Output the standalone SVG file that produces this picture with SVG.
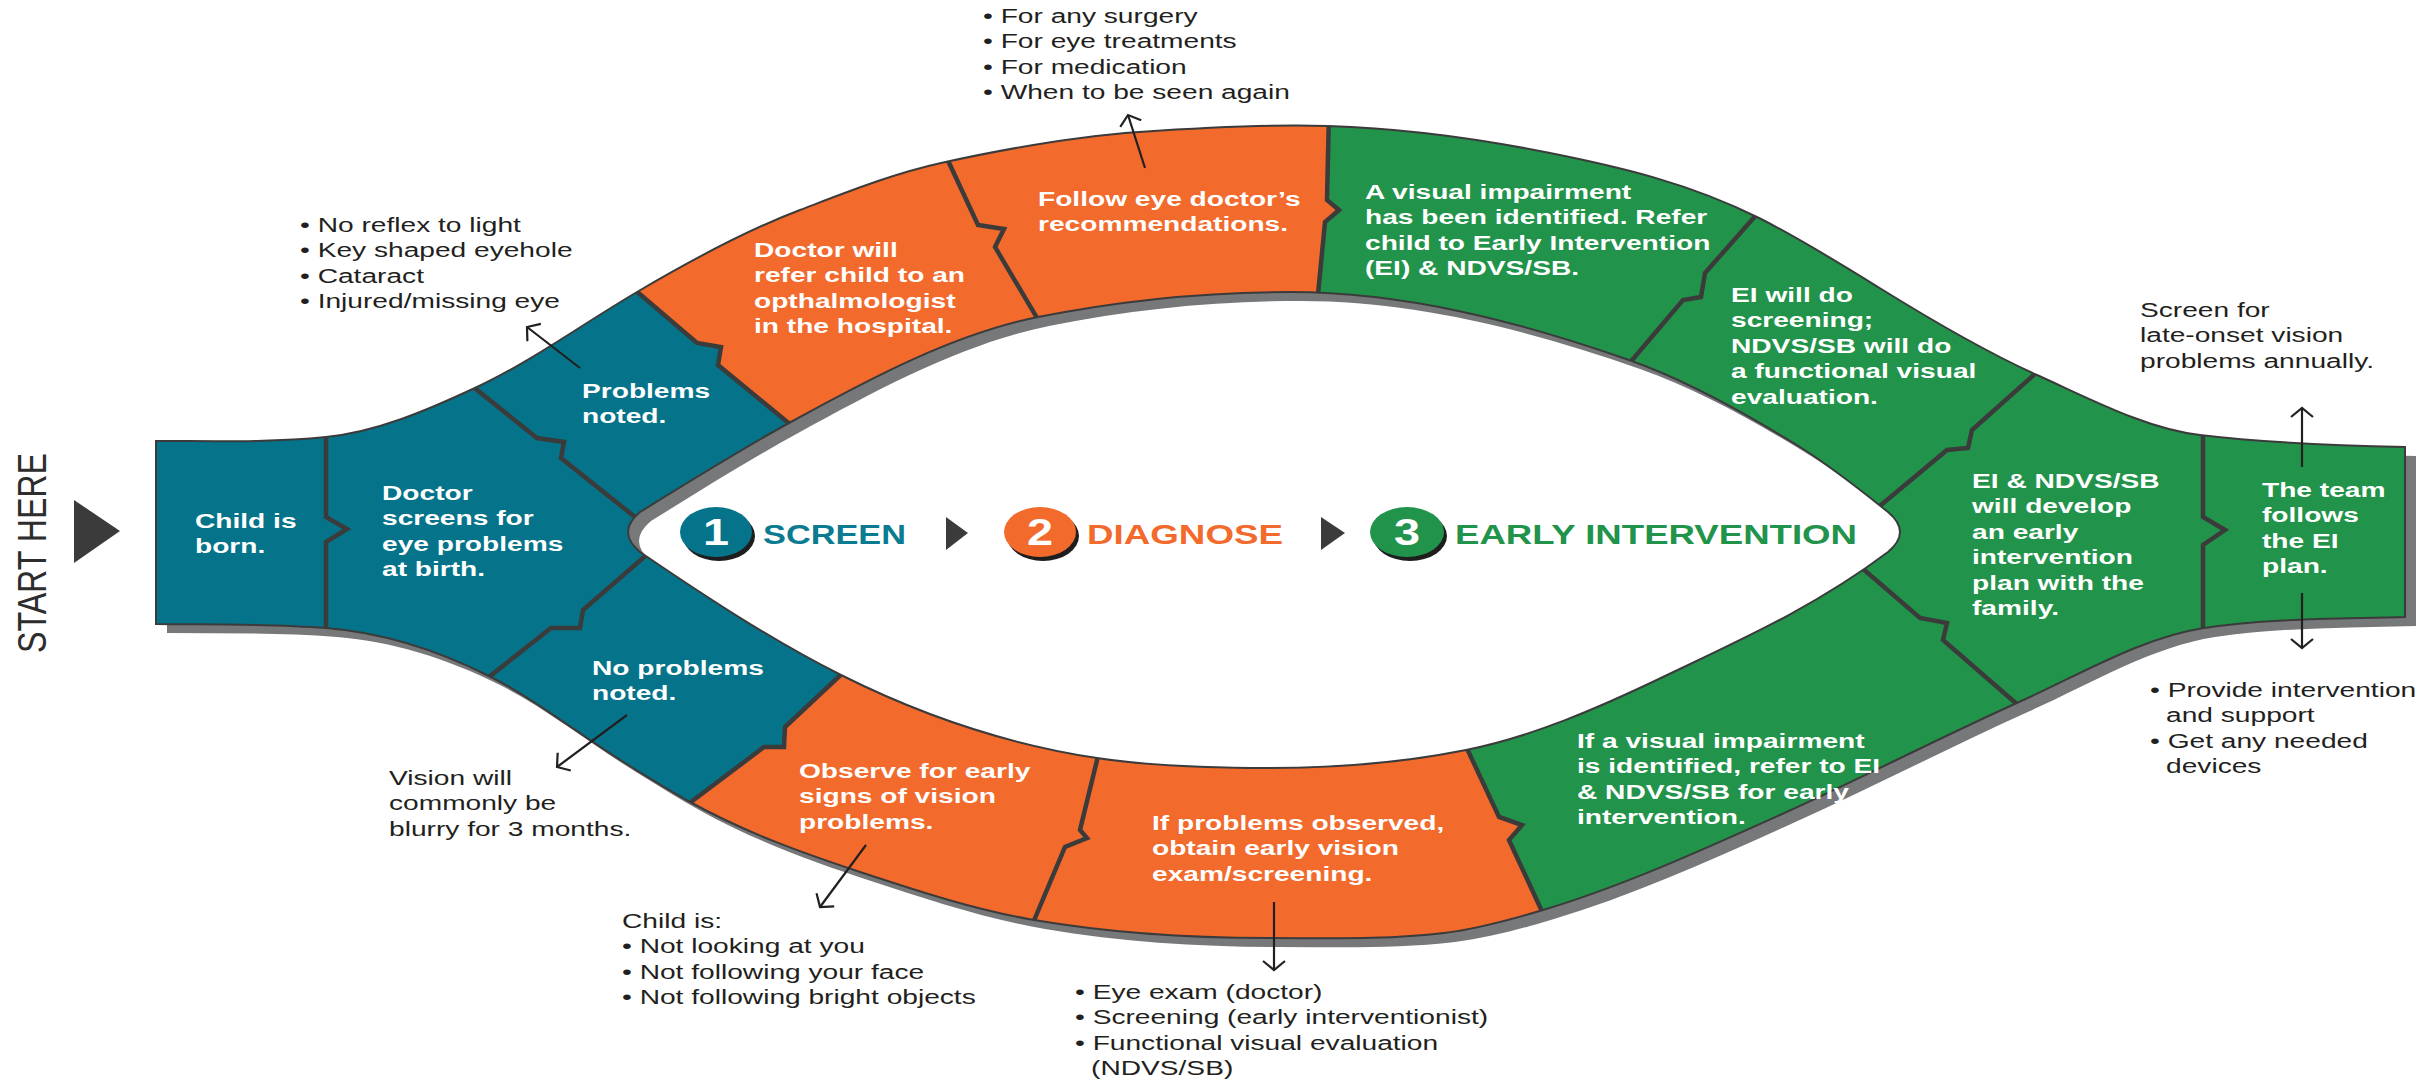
<svg xmlns="http://www.w3.org/2000/svg" width="2433" height="1081" viewBox="0 0 2433 1081">
<style>
.wt{font-family:"Liberation Sans",Arial,sans-serif;font-weight:bold;font-size:21px;fill:#fff}
.bt{font-family:"Liberation Sans",Arial,sans-serif;font-size:21px;fill:#231f20}
.dv{fill:none;stroke:#3b3b3b;stroke-width:4.5;stroke-linejoin:miter}
.con{fill:none;stroke:#231f20;stroke-width:2.2}
.lbl{font-family:"Liberation Sans",Arial,sans-serif;font-weight:bold;font-size:27px}
.num{font-family:"Liberation Sans",Arial,sans-serif;font-weight:bold;font-size:36px;fill:#fff}
</style>
<defs>
<path id="band" fill-rule="evenodd" clip-rule="evenodd" d="M156,441 C212.7,441 269.3,442.7 326,437 C376.3,432 426.7,410.6 477,387 C530.3,362 583.7,323.4 637,292 C691.3,260 745.7,230.6 800,210 C847,192.1 894,173.3 941,163 C1007,148.5 1073,136.6 1139,132 C1202,127.6 1265,124.1 1328,126 C1402,128.2 1476,138.2 1550,153 C1619.7,166.9 1689.3,183.2 1759,218 C1798.7,237.8 1838.3,262.4 1878,287 C1931,319.9 1984,351.2 2037,375 C2091.3,399.4 2145.7,428.5 2200,435 C2268.3,443.2 2336.7,445.6 2405,447 L2405,617 C2338,619 2271,618 2204,628 C2142.3,637.3 2080.7,674.2 2019,702 C1939.3,737.9 1859.7,779.1 1780,815 C1701,850.6 1622,886.3 1543,910 C1510,919.9 1477,929 1444,933 C1385.3,940 1326.7,938 1268,938 C1190,938 1112,933.3 1034,920 C976,910.1 918,891.1 860,872 C803.3,853.3 746.7,833.2 690,802 C668.3,790.1 646.7,776.4 625,763 C579.7,734.9 534.3,698.7 489,676 C434.7,648.8 380.3,632.3 326,628 C269.3,623.5 212.7,624.6 156,624 Z M640,512 C689.7,481.2 739.3,450.3 789,423 C872,377.3 955,333.6 1038,317 C1122,300.2 1206,292 1290,292 C1403,292 1516,320.4 1629,360 C1686,380 1743,411.7 1800,447 C1829.3,465.2 1858.7,488.5 1888,512 Q1912,532 1888,552 C1813,608.25 1738,641 1663,677 C1597.3,708.5 1531.7,736.9 1466,750 C1400.7,763.1 1335.3,768 1270,768 C1212.3,768 1154.7,766.7 1097,758 C1011.7,745.2 926.3,717.7 841,675 C774,641.5 707,597.6 640,552 Q616,532 640,512 Z"/>
<clipPath id="bandClip"><use href="#band"/></clipPath>
<marker id="arr" viewBox="0 0 12 26" refX="10" refY="13" markerWidth="12" markerHeight="26" markerUnits="userSpaceOnUse" orient="auto">
<path d="M1,2 L10,13 L1,24" fill="none" stroke="#231f20" stroke-width="2.2"/>
</marker>
</defs>
<rect width="2433" height="1081" fill="#fff"/>

<g id="start">
<text transform="translate(46,553) rotate(-90)" text-anchor="middle" font-family="Liberation Sans, Arial, sans-serif" font-size="40" fill="#2d2d2d" textLength="200" lengthAdjust="spacingAndGlyphs">START HERE</text>
<polygon points="74,500 120,531 74,563" fill="#3b3b3b"/>
</g>

<g id="band-shape">
<use href="#band" fill="#77787a" transform="translate(11,9)"/>
<g clip-path="url(#bandClip)">
<rect width="2433" height="1081" fill="#05748a"/>
<polygon fill="#f26a2c" points="620,0 1330,0 1329,112 1327,200 1339,210 1325,222 1317,305 1400,532 1463,740 1499,817 1522,825 1509,840 1546,920 1560,1081 640,1081 640,860 683,808 764,747 784,747 785,727 848,668 700,532 797,430 718,365 721,347 697,343 628,284 620,270"/>
<polygon fill="#22934a" points="1330,0 2433,0 2433,1081 1560,1081 1546,920 1509,840 1522,825 1499,817 1463,740 1400,532 1317,305 1325,222 1339,210 1327,200 1329,112"/>
<path class="dv" d="M326,425 L326,517 L347,529 L326,542 L326,640"/>
<path class="dv" d="M462,378 L537,438 L564,442 L561,458 L645,525"/>
<path class="dv" d="M480,684 L551,628 L580,628 L583,610 L650,552"/>
<path class="dv" d="M628,284 L697,343 L721,347 L718,365 L797,430"/>
<path class="dv" d="M944,152 L978,225 L1004,229 L995,247 L1043,328"/>
<path class="dv" d="M1329,112 L1327,200 L1339,210 L1325,222 L1317,305"/>
<path class="dv" d="M1765,205 L1705,273 L1701,297 L1683,300 L1622,372"/>
<path class="dv" d="M2045,365 L1972,430 L1968,448 L1947,450 L1875,510"/>
<path class="dv" d="M2203,425 L2203,517 L2225,530 L2203,545 L2203,640"/>
<path class="dv" d="M1855,562 L1920,618 L1947,623 L1943,640 L2026,712"/>
<path class="dv" d="M1463,740 L1499,817 L1522,825 L1509,840 L1546,920"/>
<path class="dv" d="M1100,748 L1080,830 L1087,838 L1065,847 L1030,930"/>
<path class="dv" d="M848,668 L785,727 L784,747 L764,747 L683,808"/>
</g>
<use href="#band" fill="none" stroke="#3b3b3b" stroke-width="2"/>
</g>

<g id="n1" transform="translate(195,528) scale(1.34,1)"><text class="wt"><tspan x="0" y="0">Child is</tspan><tspan x="0" y="25.5">born.</tspan></text></g>
<g id="n2" transform="translate(382,500) scale(1.34,1)"><text class="wt"><tspan x="0" y="0">Doctor</tspan><tspan x="0" y="25.5">screens for</tspan><tspan x="0" y="51">eye problems</tspan><tspan x="0" y="76.5">at birth.</tspan></text></g>
<g id="n3" transform="translate(582,398) scale(1.34,1)"><text class="wt"><tspan x="0" y="0">Problems</tspan><tspan x="0" y="25.5">noted.</tspan></text></g>
<g id="n4" transform="translate(592,675) scale(1.34,1)"><text class="wt"><tspan x="0" y="0">No problems</tspan><tspan x="0" y="25.5">noted.</tspan></text></g>
<g id="n5" transform="translate(754,257) scale(1.34,1)"><text class="wt"><tspan x="0" y="0">Doctor will</tspan><tspan x="0" y="25.5">refer child to an</tspan><tspan x="0" y="51">opthalmologist</tspan><tspan x="0" y="76.5">in the hospital.</tspan></text></g>
<g id="n6" transform="translate(1038,206) scale(1.34,1)"><text class="wt"><tspan x="0" y="0">Follow eye doctor’s</tspan><tspan x="0" y="25.5">recommendations.</tspan></text></g>
<g id="n7" transform="translate(1365,199) scale(1.34,1)"><text class="wt"><tspan x="0" y="0">A visual impairment</tspan><tspan x="0" y="25.5">has been identified. Refer</tspan><tspan x="0" y="51">child to Early Intervention</tspan><tspan x="0" y="76.5">(EI) &amp; NDVS/SB.</tspan></text></g>
<g id="n8" transform="translate(1731,302) scale(1.34,1)"><text class="wt"><tspan x="0" y="0">EI will do</tspan><tspan x="0" y="25.5">screening;</tspan><tspan x="0" y="51">NDVS/SB will do</tspan><tspan x="0" y="76.5">a functional visual</tspan><tspan x="0" y="102">evaluation.</tspan></text></g>
<g id="n9" transform="translate(1972,488) scale(1.34,1)"><text class="wt"><tspan x="0" y="0">EI &amp; NDVS/SB</tspan><tspan x="0" y="25.5">will develop</tspan><tspan x="0" y="51">an early</tspan><tspan x="0" y="76.5">intervention</tspan><tspan x="0" y="102">plan with the</tspan><tspan x="0" y="127.5">family.</tspan></text></g>
<g id="n10" transform="translate(2262,497) scale(1.34,1)"><text class="wt"><tspan x="0" y="0">The team</tspan><tspan x="0" y="25.5">follows</tspan><tspan x="0" y="51">the EI</tspan><tspan x="0" y="76.5">plan.</tspan></text></g>
<g id="n11" transform="translate(799,778) scale(1.34,1)"><text class="wt"><tspan x="0" y="0">Observe for early</tspan><tspan x="0" y="25.5">signs of vision</tspan><tspan x="0" y="51">problems.</tspan></text></g>
<g id="n12" transform="translate(1152,830) scale(1.34,1)"><text class="wt"><tspan x="0" y="0">If problems observed,</tspan><tspan x="0" y="25.5">obtain early vision</tspan><tspan x="0" y="51">exam/screening.</tspan></text></g>
<g id="n13" transform="translate(1577,748) scale(1.34,1)"><text class="wt"><tspan x="0" y="0">If a visual impairment</tspan><tspan x="0" y="25.5">is identified, refer to EI</tspan><tspan x="0" y="51">&amp; NDVS/SB for early</tspan><tspan x="0" y="76.5">intervention.</tspan></text></g>

<g id="note-recommend" transform="translate(983,23) scale(1.34,1)"><text class="bt"><tspan x="0" y="0">• For any surgery</tspan><tspan x="0" y="25.5">• For eye treatments</tspan><tspan x="0" y="51">• For medication</tspan><tspan x="0" y="76.5">• When to be seen again</tspan></text></g>
<g id="note-problems" transform="translate(300,232) scale(1.34,1)"><text class="bt"><tspan x="0" y="0">• No reflex to light</tspan><tspan x="0" y="25.5">• Key shaped eyehole</tspan><tspan x="0" y="51">• Cataract</tspan><tspan x="0" y="76.5">• Injured/missing eye</tspan></text></g>
<g id="note-blurry" transform="translate(389,785) scale(1.34,1)"><text class="bt"><tspan x="0" y="0">Vision will</tspan><tspan x="0" y="25.5">commonly be</tspan><tspan x="0" y="51">blurry for 3 months.</tspan></text></g>
<g id="note-child" transform="translate(622,928) scale(1.34,1)"><text class="bt"><tspan x="0" y="0">Child is:</tspan><tspan x="0" y="25.5">• Not looking at you</tspan><tspan x="0" y="51">• Not following your face</tspan><tspan x="0" y="76.5">• Not following bright objects</tspan></text></g>
<g id="note-exam" transform="translate(1075,999) scale(1.34,1)"><text class="bt"><tspan x="0" y="0">• Eye exam (doctor)</tspan><tspan x="0" y="25.5">• Screening (early interventionist)</tspan><tspan x="0" y="51">• Functional visual evaluation</tspan><tspan x="12" y="76.5">(NDVS/SB)</tspan></text></g>
<g id="note-annual" transform="translate(2140,317) scale(1.34,1)"><text class="bt"><tspan x="0" y="0">Screen for</tspan><tspan x="0" y="25.5">late-onset vision</tspan><tspan x="0" y="51">problems annually.</tspan></text></g>
<g id="note-support" transform="translate(2150,697) scale(1.34,1)"><text class="bt"><tspan x="0" y="0">• Provide intervention</tspan><tspan x="12" y="25.5">and support</tspan><tspan x="0" y="51">• Get any needed</tspan><tspan x="12" y="76.5">devices</tspan></text></g>

<g id="stage-screen">
<ellipse cx="719" cy="536" rx="36" ry="25" fill="#1e1e1e"/>
<ellipse cx="716" cy="532" rx="36" ry="25" fill="#05748a"/>
<text class="num" transform="translate(716,545) scale(1.3,1)" text-anchor="middle">1</text>
<text class="lbl" x="763" y="544" fill="#0b7b91" textLength="143" lengthAdjust="spacingAndGlyphs">SCREEN</text>
</g>
<polygon id="step-arrow-1" points="946,517 968,533 946,550" fill="#3b3b3b"/>
<g id="stage-diagnose">
<ellipse cx="1043" cy="536" rx="36" ry="25" fill="#1e1e1e"/>
<ellipse cx="1040" cy="532" rx="36" ry="25" fill="#f26a2c"/>
<text class="num" transform="translate(1040,545) scale(1.3,1)" text-anchor="middle">2</text>
<text class="lbl" x="1087" y="544" fill="#f26a2c" textLength="196" lengthAdjust="spacingAndGlyphs">DIAGNOSE</text>
</g>
<polygon id="step-arrow-2" points="1321,517 1345,533 1321,550" fill="#3b3b3b"/>
<g id="stage-ei">
<ellipse cx="1410" cy="536" rx="37" ry="25" fill="#1e1e1e"/>
<ellipse cx="1407" cy="532" rx="37" ry="25" fill="#22934a"/>
<text class="num" transform="translate(1407,545) scale(1.3,1)" text-anchor="middle">3</text>
<text class="lbl" x="1455" y="544" fill="#22934a" textLength="402" lengthAdjust="spacingAndGlyphs">EARLY INTERVENTION</text>
</g>

<g id="connectors">
<path class="con" marker-end="url(#arr)" d="M1145,168 L1128,115"/>
<path class="con" marker-end="url(#arr)" d="M580,368 L527,327"/>
<path class="con" marker-end="url(#arr)" d="M627,715 L557,767"/>
<path class="con" marker-end="url(#arr)" d="M866,845 L820,907"/>
<path class="con" marker-end="url(#arr)" d="M1274,902 L1274,970"/>
<path class="con" marker-end="url(#arr)" d="M2302,467 L2302,408"/>
<path class="con" marker-end="url(#arr)" d="M2302,593 L2302,648"/>
</g>
</svg>
